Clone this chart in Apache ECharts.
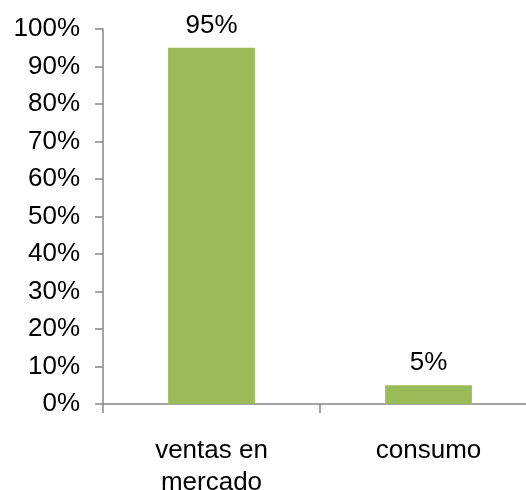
<!DOCTYPE html>
<html><head><meta charset="utf-8">
<script src="https://cdn.jsdelivr.net/npm/echarts@6/dist/echarts.min.js"></script>
<style>html,body{margin:0;padding:0;background:#fff;overflow:hidden}#c{width:526px;height:490px}</style>
</head><body><div id="c"></div>
<script>
var categories = ['ventas en\nmercado', 'consumo'];
var values = [95, 5];
var chart = echarts.init(document.getElementById('c'), null, {renderer:'canvas'});
var font = '"Liberation Sans", Arial, sans-serif';
chart.setOption({
  animation: false,
  grid: {left: 103, top: 29, width: 434, height: 375, containLabel: false, outerBoundsMode: 'none'},
  xAxis: {
    type: 'category', data: categories,
    axisLine: {lineStyle: {color: '#868686', width: 1.5}},
    axisTick: {show: true, length: 9, lineStyle: {color: '#868686', width: 1.5}},
    axisLabel: {color: '#000', fontSize: 26, fontFamily: font, margin: 31, lineHeight: 32, interval: 0}
  },
  yAxis: {
    type: 'value', min: 0, max: 100, interval: 10,
    axisLine: {show: true, lineStyle: {color: '#868686', width: 1.5}},
    axisTick: {show: true, length: 8, lineStyle: {color: '#868686', width: 1.5}},
    splitLine: {show: false},
    axisLabel: {color: '#000', fontSize: 26, fontFamily: font, margin: 23, formatter: '{value}%'}
  },
  series: [{
    type: 'bar', data: values, barCategoryGap: '60%',
    itemStyle: {color: '#9BBB59'},
    label: {show: true, position: 'top', distance: 9, color: '#000', fontSize: 26, fontFamily: font, formatter: '{c}%'}
  }]
});
</script></body></html>
